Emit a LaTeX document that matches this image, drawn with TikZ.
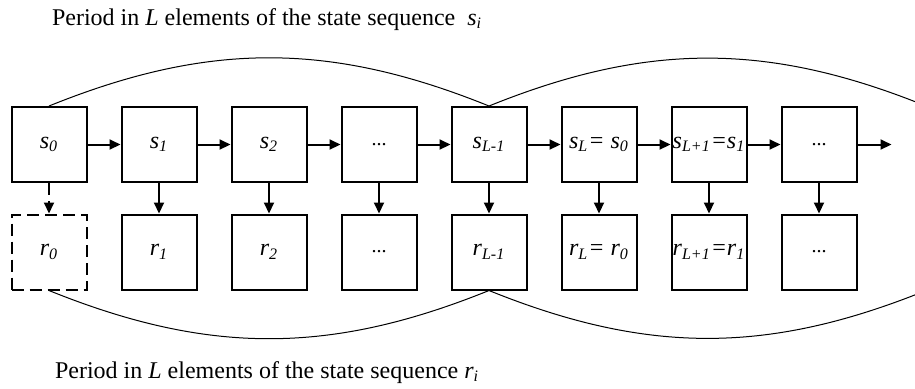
\documentclass[tikz,border=0pt]{standalone}
\usepackage{fontspec}
\setmainfont{Liberation Serif}
\usepackage{tikz}
\usetikzlibrary{arrows.meta,positioning,calc}

\begin{document}
\begin{tikzpicture}[
      font=\fontsize{12pt}{14pt}\selectfont,
      cell/.style={draw,line width=1pt,minimum size=37.5pt,inner sep=0pt,font=\fontsize{12pt}{14pt}\selectfont\itshape},
      ghost/.style={cell,dash pattern=on 6pt off 3pt},
      ar/.style={-{Triangle[length=5.5pt,width=5pt]},line width=1pt},
      dar/.style={ar,dash pattern=on 6pt off 3pt},
      period/.style={line width=0.5pt}]
      \clip (0,0) rectangle (457.5pt,-194pt);
      % state sequence
      \node[cell] (s0) at (24.5pt,-72.25pt) {s\textsubscript{0}};
      \node[cell,right=16.5pt of s0] (s1) {s\textsubscript{1}};
      \node[cell,right=16.5pt of s1] (s2) {s\textsubscript{2}};
      \node[cell,right=16.5pt of s2,font=\upshape] (sdots) {...};
      \node[cell,right=16.5pt of sdots] (sLm) {s\textsubscript{L-1}};
      \node[cell,right=16.5pt of sLm] (sL) {s\textsubscript{L}= s\textsubscript{0}};
      \node[cell,right=16.5pt of sL] (sLp) {s\textsubscript{L+1}=s\textsubscript{1}};
      \node[cell,right=16.5pt of sLp,font=\upshape] (sdots2) {...};
      \coordinate[right=17pt of sdots2] (snext);
      % output sequence
      \node[ghost,below=15.25pt of s0] (r0) {r\textsubscript{0}};
      \node[cell,below=15.25pt of s1] (r1) {r\textsubscript{1}};
      \node[cell,below=15.25pt of s2] (r2) {r\textsubscript{2}};
      \node[cell,below=15.25pt of sdots,font=\upshape] (rdots) {...};
      \node[cell,below=15.25pt of sLm] (rLm) {r\textsubscript{L-1}};
      \node[cell,below=15.25pt of sL] (rL) {r\textsubscript{L}= r\textsubscript{0}};
      \node[cell,below=15.25pt of sLp] (rLp) {r\textsubscript{L+1}=r\textsubscript{1}};
      \node[cell,below=15.25pt of sdots2,font=\upshape] (rdots2) {...};
      % next period, off the page
      \coordinate (stail) at ($(sLm.north)+(218.5pt,0)$);
      \coordinate (rtail) at ($(rLm.south)+(218.5pt,0)$);
      \draw[ar] (s0) -- (s1); \draw[ar] (s1) -- (s2); \draw[ar] (s2) -- (sdots);
      \draw[ar] (sdots) -- (sLm); \draw[ar] (sLm) -- (sL); \draw[ar] (sL) -- (sLp);
      \draw[ar] (sLp) -- (sdots2); \draw[ar] (sdots2) -- (snext);
      \draw[dar] (s0) -- (r0);
      \foreach \a/\b in {s1/r1,s2/r2,sdots/rdots,sLm/rLm,sL/rL,sLp/rLp,sdots2/rdots2}
        \draw[ar] (\a) -- (\b);
      \draw[period] (s0.north) to[bend left=22] (sLm.north) to[bend left=22] (stail);
      \draw[period] (r0.south) to[bend right=22] (rLm.south) to[bend right=22] (rtail);
      \node[anchor=base west] (stitle) at (22.5pt,-12.5pt) {Period in \textit{L} elements of the state sequence\ \ \textit{s\textsubscript{i}}};
      \node[anchor=base west] (rtitle) at (24pt,-189pt) {Period in \textit{L} elements of the state sequence \textit{r\textsubscript{i}}};
    \end{tikzpicture}
\end{document}
